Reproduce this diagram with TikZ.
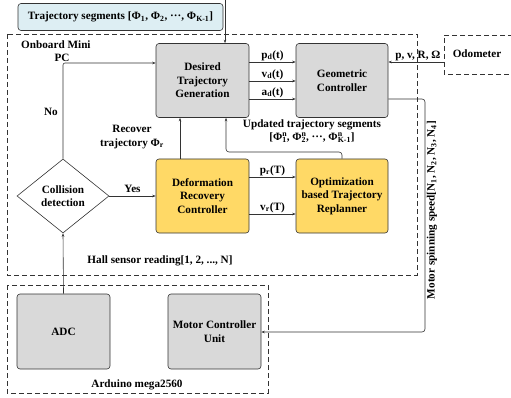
\documentclass[tikz,border=0pt]{standalone}
\usepackage{fontspec}
\setmainfont{Liberation Serif}
\usetikzlibrary{arrows.meta,shapes.geometric}
\definecolor{boxgray}{HTML}{D9D9D9}
\definecolor{boxyellow}{HTML}{FFD966}
\definecolor{boxblue}{HTML}{DDEEF3}
\newcommand{\ssb}[2]{\makebox[0pt][l]{\textsuperscript{#1}}\textsubscript{#2}}
\begin{document}
\begin{tikzpicture}[x=1pt,y=-1pt,
  font=\fontsize{11.2}{13.5}\selectfont\bfseries,
  blk/.style={draw=black!80,line width=0.6pt,rounded corners=3pt,align=center,inner sep=0.5pt},
  grayblk/.style={blk,fill=boxgray},
  yelblk/.style={blk,fill=boxyellow},
  dbox/.style={draw=black!80,line width=0.6pt,dash pattern=on 5pt off 3pt},
  conn/.style={draw=black!80,line width=0.6pt,-{Stealth[length=3.5pt,width=2.5pt]}},
  lbl/.style={inner sep=1pt,align=center}]
\useasboundingbox (0,0) rectangle (511,398);
% dashed containers
\draw[dbox] (7,34) rectangle (417,275);
\draw[dbox] (7,285) rectangle (268,393);
\draw[dbox] (513,35) -- (444,35) -- (444,74) -- (513,74);
\node[lbl,anchor=west] (opc1) at (20,45) {Onboard Mini};
\node[lbl] (opc2) at (62,58) {PC};
\node[lbl] (ard) at (137,385) {Arduino mega2560};
\node[lbl] (odo) at (477,54) {Odometer};
% blocks
\node[blk,fill=boxblue,minimum width=205pt,minimum height=27pt] (traj) at (120.5,17) {Trajectory segments [Φ\textsubscript{1}, Φ\textsubscript{2}, ···, Φ\textsubscript{K-1}]};
\node[grayblk,minimum width=93pt,minimum height=74pt] (dtg) at (202.5,80.5) {Desired\\Trajectory\\Generation};
\node[grayblk,minimum width=92pt,minimum height=74pt] (gc) at (342,80.5) {Geometric\\Controller};
\node[yelblk,minimum width=93pt,minimum height=74pt] (drc) at (202.5,196) {Deformation\\Recovery\\Controller};
\node[yelblk,minimum width=92pt,minimum height=74pt] (otr) at (342,196) {Optimization\\based Trajectory\\Replanner};
\node[draw=black!80,line width=0.6pt,diamond,aspect=1.25,minimum width=92pt,minimum height=74pt,inner sep=0pt,align=center] (cd) at (63,196) {Collision\\detection};
\node[grayblk,minimum width=93pt,minimum height=75pt] (adc) at (63.5,331.5) {ADC};
\node[grayblk,minimum width=93pt,minimum height=75pt] (mcu) at (214.5,331.5) {Motor Controller\\Unit};
% connectors
\coordinate (tin) at (225,0);
\draw[conn] (tin) -- (tin |- dtg.north);
\draw[conn] (dtg.east |- 0,62) -- (gc.west |- 0,62) node[lbl,midway,above] {p\textsubscript{d}(t)};
\draw[conn] (dtg.east |- 0,81) -- (gc.west |- 0,81) node[lbl,midway,above] {v\textsubscript{d}(t)};
\draw[conn] (dtg.east |- 0,99) -- (gc.west |- 0,99) node[lbl,midway,above] {a\textsubscript{d}(t)};
\coordinate (odoin) at (444,62);
\draw[conn] (odoin) -- (gc.east |- odoin) node[lbl,pos=0.47,above] {p, v, R, Ω};
\draw[conn] (drc.east |- 0,177) -- (otr.west |- 0,177) node[lbl,midway,above] {p\textsubscript{r}(T)};
\draw[conn] (drc.east |- 0,214) -- (otr.west |- 0,214) node[lbl,midway,above] {v\textsubscript{r}(T)};
\draw[conn] (cd.east) -- (drc.west) node[lbl,midway,above=2pt] {Yes};
\draw[conn,rounded corners=2pt] (cd.north) -- (63,63) -- (dtg.west |- 0,63);
\node[lbl] (no) at (51,112) {No};
\draw[conn] (drc.north -| 180,0) -- (dtg.south -| 180,0);
\node[lbl] (rec) at (132,137) {Recover\\trajectory Φ\textsubscript{r}};
\draw[conn,rounded corners=3pt] (otr.north) -- (342,152) -- (226,152) -- (dtg.south -| 226,0);
\node[lbl] (upd) at (312,131) {Updated trajectory segments\\{[}Φ\ssb{n}{1}, Φ\ssb{n}{2}, ···, Φ\ssb{n}{K-1}]};
\draw[conn] (adc.north) -- (cd.south);
\node[lbl] (hall) at (160,261) {Hall sensor reading[1, 2, ..., N]};
\draw[conn,rounded corners=3pt] (gc.east |- 0,99) -- (425,99) -- (425,332) -- (mcu.east |- 0,332);
\node[lbl,rotate=90] (mss) at (432,210) {Motor spinning speed[N\textsubscript{1}, N\textsubscript{2}, N\textsubscript{3}, N\textsubscript{4}]};
\end{tikzpicture}
\end{document}
